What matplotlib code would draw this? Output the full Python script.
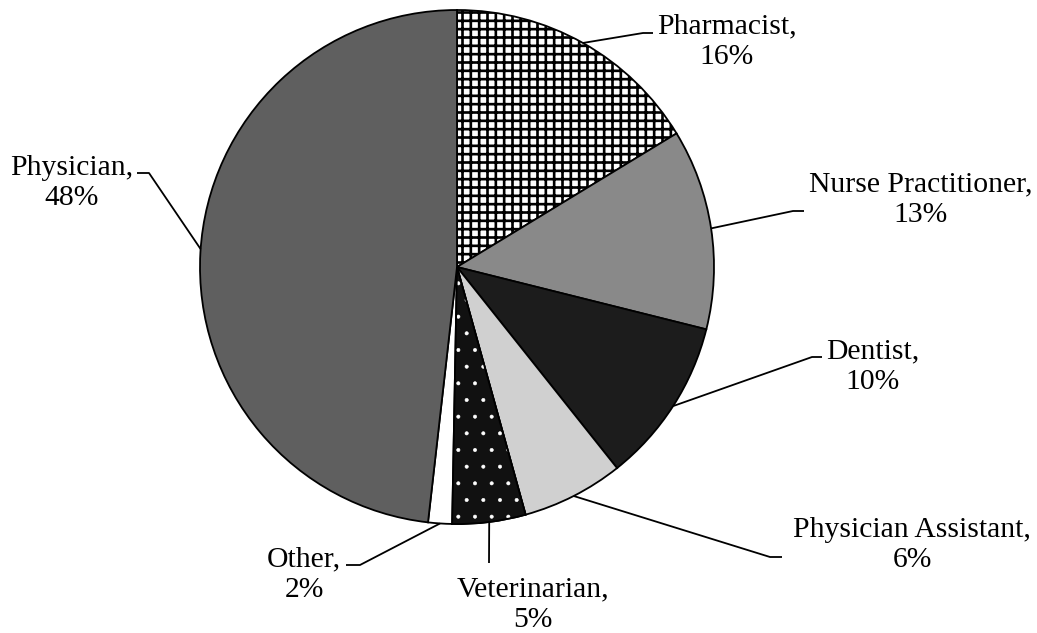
import matplotlib as mpl
import matplotlib.pyplot as plt
import matplotlib.patches as mpatches
import numpy as np

plt.rcParams['font.family'] = ['Liberation Serif', 'DejaVu Serif']
plt.rcParams['hatch.linewidth'] = 1.9

# Data (share of respondents, %)
labels = ['Pharmacist', 'Nurse Practitioner', 'Dentist', 'Physician Assistant',
          'Veterinarian', 'Other', 'Physician']
values = [16.3, 12.6, 10.4, 6.4, 4.6, 1.5, 48.2]
colors = ['white', '#898989', '#1c1c1c', '#d0d0d0', '#111111', 'white', '#5f5f5f']
hatches = ['++', None, None, None, '.', None, None]

# layout in pixels (pie centre 457,267, radius 257)
CX, CY, R = 457, 267, 257


def px(x, y):
    return (x - CX) / R, (CY - y) / R


# label centre positions and leader elbow / end points (pixels)
label_pos = [(727, 42), (921, 200), (873, 367), (912, 545), (533, 605), (304, 575), (72, 183)]
elbows = [(643, 33), (793, 211), (812, 357), (770, 557), (489, 563), (360, 565), (149, 173)]
ends = [(653, 33), (804, 211), (822, 357), (782, 557), (489, 563), (346, 565), (137, 173)]
attach_override = {6: 176.0}  # Physician leader touches arc higher up

fig = plt.figure(figsize=(10.37, 6.33), dpi=100)
ax = fig.add_axes([0, 0, 1, 1])

wedges, _ = ax.pie(values, colors=colors, startangle=90, counterclock=False,
                   radius=1, wedgeprops=dict(edgecolor='black', linewidth=1.3))

wedges[0].set_hatch(hatches[0])

# Veterinarian: tiny white dots on black, keep black outline
vet = wedges[4]
with mpl.rc_context({'hatch.linewidth': 0.4}):
    dots = mpatches.Wedge(vet.center, vet.r, vet.theta1, vet.theta2,
                          facecolor=colors[4], edgecolor='white', linewidth=0,
                          hatch=hatches[4])
    ax.add_patch(dots)
    try:
        dots.set_hatch_linewidth(0.4)
    except AttributeError:
        pass
ax.add_patch(mpatches.Wedge(vet.center, vet.r, vet.theta1, vet.theta2,
                            fill=False, edgecolor='black', linewidth=1.3))

for i, (w, lab, v) in enumerate(zip(wedges, labels, values)):
    ang = attach_override.get(i, (w.theta1 + w.theta2) / 2)
    a = np.deg2rad(ang)
    x0, y0 = np.cos(a), np.sin(a)
    ex, ey = px(*elbows[i])
    tx, ty = px(*ends[i])
    ax.plot([x0, ex, tx], [y0, ey, ty], color='black', lw=1.3, solid_capstyle='butt')
    lx, ly = px(*label_pos[i])
    ax.text(lx, ly, f'{lab},\n{v:.0f}%', ha='center', va='center',
            fontsize=21.3, linespacing=1.22)

ax.set_xlim(-CX / R, (1037 - CX) / R)
ax.set_ylim((CY - 633) / R, CY / R)
ax.set_aspect('equal', adjustable='datalim')
ax.axis('off')

fig.savefig('out.png', dpi=100)
